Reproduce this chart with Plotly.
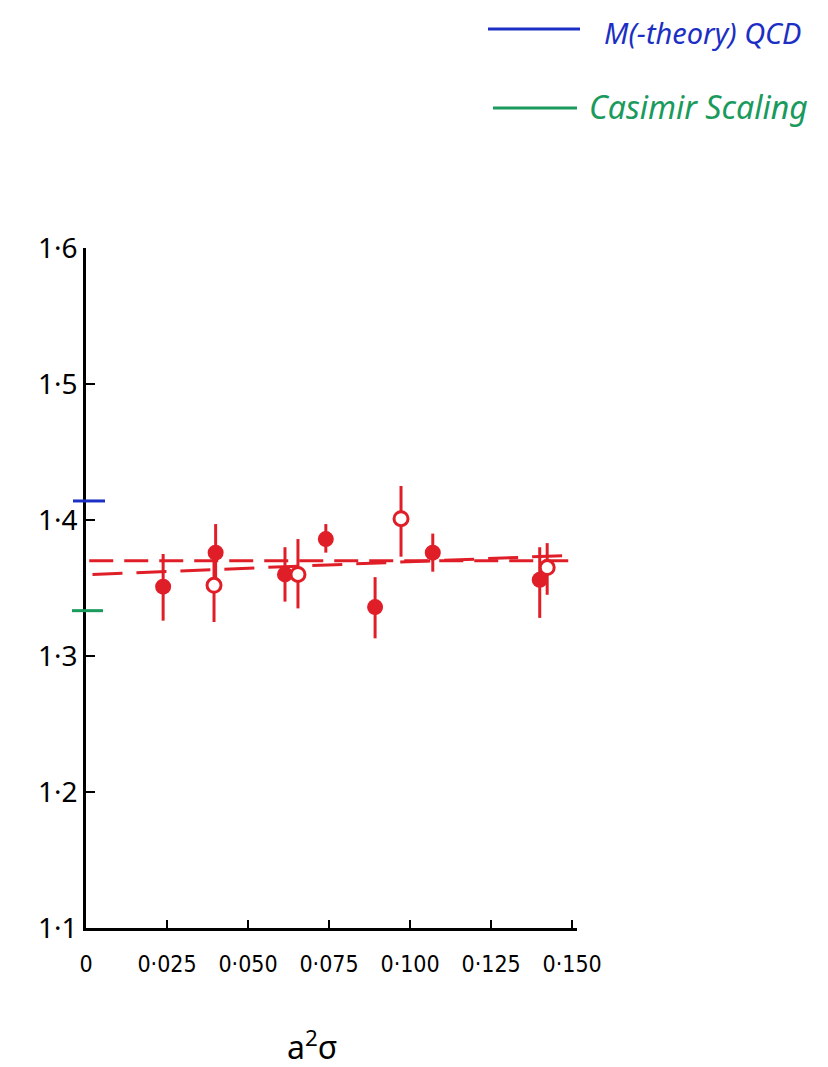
import plotly.graph_objects as go

# Ratio measurements vs a^2 sigma
x_filled = [0.0238, 0.0400, 0.0614, 0.0740, 0.0892, 0.1070, 0.1400]
y_filled = [1.351, 1.376, 1.360, 1.386, 1.336, 1.376, 1.356]
err_filled_up = [0.024, 0.021, 0.020, 0.011, 0.022, 0.014, 0.024]
err_filled_dn = [0.025, 0.020, 0.020, 0.010, 0.023, 0.014, 0.028]

x_open = [0.0395, 0.0654, 0.0972, 0.1423]
y_open = [1.352, 1.360, 1.401, 1.365]
err_open_up = [0.022, 0.026, 0.024, 0.018]
err_open_dn = [0.027, 0.025, 0.028, 0.020]

# Continuum fits (dashed)
fit_flat_x = [0.001, 0.149]
fit_flat_y = [1.370, 1.370]
fit_slope_x = [0.002, 0.149]
fit_slope_y = [1.360, 1.374]

# Theory predictions marked on the y-axis
mtheory_value = 1.414
casimir_value = 4 / 3

x_ticks = [0, 0.025, 0.050, 0.075, 0.100, 0.125, 0.150]
x_tick_text = ["0", "0·025", "0·050", "0·075", "0·100", "0·125", "0·150"]
y_ticks = [1.1, 1.2, 1.3, 1.4, 1.5, 1.6]
y_tick_text = ["1·1", "1·2", "1·3", "1·4", "1·5", "1·6"]

RED = "#e01e28"
BLUE = "#1c2fc4"
GREEN = "#1a9a5c"

# plot-area geometry in pixels, used for paper-coordinate placement
L, T, W, H = 86, 248, 491, 680


def px_x(p):
    return (p - L) / W


def px_y(p):
    return 1.0 - (p - T) / H


fig = go.Figure()

fig.add_trace(go.Scatter(
    x=fit_flat_x, y=fit_flat_y, mode="lines",
    line=dict(color=RED, width=3, dash="24px,11px"),
    showlegend=False, hoverinfo="skip"))
fig.add_trace(go.Scatter(
    x=fit_slope_x, y=fit_slope_y, mode="lines",
    line=dict(color=RED, width=3, dash="30px,14px"),
    showlegend=False, hoverinfo="skip"))

fig.add_trace(go.Scatter(
    x=x_filled, y=y_filled, mode="markers",
    marker=dict(color=RED, size=16, line=dict(width=0)),
    error_y=dict(type="data", array=err_filled_up, arrayminus=err_filled_dn,
                 color=RED, thickness=3, width=0),
    showlegend=False))
fig.add_trace(go.Scatter(
    x=x_open, y=y_open, mode="markers",
    marker=dict(color="white", size=14, line=dict(color=RED, width=3)),
    error_y=dict(type="data", array=err_open_up, arrayminus=err_open_dn,
                 color=RED, thickness=3, width=0),
    showlegend=False))

# Theory values as short marks straddling the y-axis
fig.add_shape(type="line", xref="paper", yref="y",
              x0=px_x(73), x1=px_x(105), y0=mtheory_value, y1=mtheory_value,
              line=dict(color=BLUE, width=3))
fig.add_shape(type="line", xref="paper", yref="y",
              x0=px_x(72), x1=px_x(103), y0=casimir_value, y1=casimir_value,
              line=dict(color=GREEN, width=3))

# Legend drawn as line samples with labels in the top right
fig.add_shape(type="line", xref="paper", yref="paper",
              x0=px_x(488), x1=px_x(580), y0=px_y(29), y1=px_y(29),
              line=dict(color=BLUE, width=3))
fig.add_shape(type="line", xref="paper", yref="paper",
              x0=px_x(493), x1=px_x(577), y0=px_y(108), y1=px_y(108),
              line=dict(color=GREEN, width=3))
fig.add_annotation(xref="paper", yref="paper", x=px_x(602), y=px_y(32),
                   text="<i>M(-theory) QCD</i>", showarrow=False, xanchor="left",
                   yanchor="middle", font=dict(family="Noto Sans", size=29, color=BLUE))
fig.add_annotation(xref="paper", yref="paper", x=px_x(587), y=px_y(106),
                   text="<i>Casimir Scaling</i>", showarrow=False, xanchor="left",
                   yanchor="middle", font=dict(family="Noto Sans", size=32, color=GREEN))

fig.add_annotation(xref="paper", yref="paper", x=px_x(312), y=px_y(1045),
                   text="a<sup>2</sup>σ", showarrow=False, xanchor="center",
                   yanchor="middle", font=dict(family="Noto Sans", size=32, color="black"))

fig.update_layout(
    width=828, height=1067,
    margin=dict(l=L, r=828 - L - W, t=T, b=1067 - T - H),
    paper_bgcolor="white", plot_bgcolor="white",
    showlegend=False,
    xaxis=dict(range=[0, 0.1515], tickvals=x_ticks, ticktext=x_tick_text,
               ticks="inside", ticklen=8, tickwidth=2, tickcolor="black",
               showline=True, linecolor="black", linewidth=2.5,
               showgrid=False, zeroline=False, ticklabelstandoff=14,
               tickfont=dict(family="Liberation Sans Narrow, DejaVu Sans Condensed, sans-serif",
                             size=23, color="black")),
    yaxis=dict(range=[1.1, 1.6], tickvals=y_ticks, ticktext=y_tick_text,
               ticks="inside", ticklen=9, tickwidth=2, tickcolor="black",
               showline=True, linecolor="black", linewidth=2.5,
               showgrid=False, zeroline=False,
               tickfont=dict(family="Noto Sans", size=28, color="black")),
)

fig.write_html("out.html")
